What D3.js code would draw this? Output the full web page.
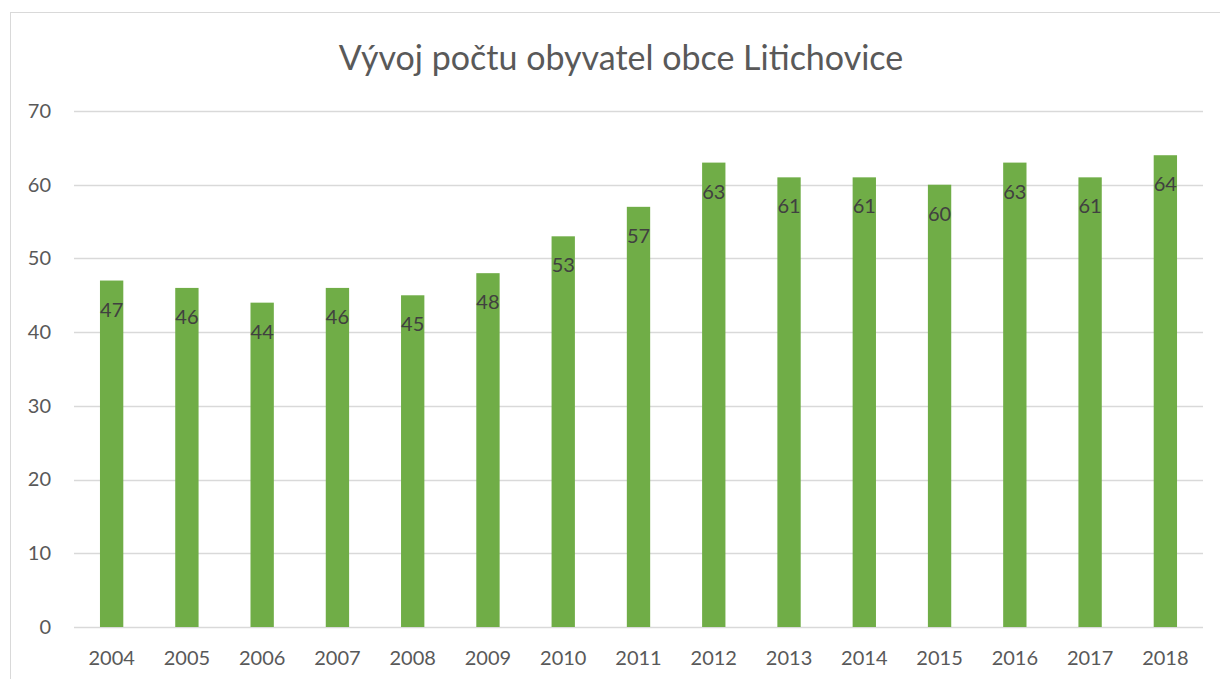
<!DOCTYPE html>
<html>
<head>
<meta charset="utf-8">
<script src="https://cdn.jsdelivr.net/npm/d3@7"></script>
<style>
  body { margin: 0; background: #fff; }
  text { font-family: Lato, "Open Sans", sans-serif; }
</style>
</head>
<body>
<svg></svg>
<script>
const years = ["2004", "2005", "2006", "2007", "2008", "2009", "2010", "2011",
  "2012", "2013", "2014", "2015", "2016", "2017", "2018"];
const population = [47, 46, 44, 46, 45, 48, 53, 57, 63, 61, 61, 60, 63, 61, 64];
const yTicks = [0, 10, 20, 30, 40, 50, 60, 70];
const title = "Vývoj počtu obyvatel obce Litichovice";

const data = years.map((y, i) => ({ year: y, value: population[i] }));

const outerWidth = 1220;
const outerHeight = 679;
const margin = { top: 111, right: 17, bottom: 52, left: 74 };
const width = outerWidth - margin.left - margin.right;
const height = outerHeight - margin.top - margin.bottom;

const svg = d3.select("svg")
  .attr("width", outerWidth)
  .attr("height", outerHeight);

// chart border
svg.append("rect")
  .attr("x", 10.5).attr("y", 12.5)
  .attr("width", 1230).attr("height", 700)
  .attr("fill", "none")
  .attr("stroke", "#d9d9d9");

svg.append("text")
  .attr("x", 621)
  .attr("y", 70)
  .attr("text-anchor", "middle")
  .style("font-size", "34px")
  .style("fill", "#595959")
  .text(title);

const g = svg.append("g")
  .attr("transform", `translate(${margin.left}, ${margin.top})`);

const x = d3.scaleBand()
  .domain(years)
  .range([0, width])
  .paddingInner(0.69)
  .paddingOuter(0.345);

const y = d3.scaleLinear()
  .domain([0, 70])
  .range([height, 0]);

// gridlines
g.selectAll(".grid")
  .data(yTicks)
  .enter()
  .append("line")
    .attr("x1", 0)
    .attr("x2", width)
    .attr("y1", d => Math.round(y(d)) + 0.5)
    .attr("y2", d => Math.round(y(d)) + 0.5)
    .attr("stroke", "#d9d9d9")
    .attr("stroke-width", 1.3);

// y axis labels
const yAxis = g.append("g")
  .call(d3.axisLeft(y).tickValues(yTicks).tickSize(0).tickPadding(23));
yAxis.select(".domain").remove();
yAxis.selectAll("text")
  .style("font-size", "20px")
  .style("fill", "#595959")
  .style("font-family", "Lato, 'Open Sans', sans-serif");

// bars
g.selectAll(".bar")
  .data(data)
  .enter()
  .append("rect")
    .attr("x", d => x(d.year))
    .attr("y", d => y(d.value))
    .attr("width", x.bandwidth())
    .attr("height", d => height - y(d.value))
    .style("fill", "#70ad47");

// value labels
g.selectAll(".label")
  .data(data)
  .enter()
  .append("text")
    .attr("x", d => x(d.year) + x.bandwidth() / 2)
    .attr("y", d => y(d.value) + 36)
    .attr("text-anchor", "middle")
    .style("font-size", "20px")
    .style("fill", "#404040")
    .text(d => d.value);

// x axis
const xAxis = g.append("g")
  .attr("transform", `translate(0, ${height})`)
  .call(d3.axisBottom(x).tickSize(0).tickPadding(24));
xAxis.select(".domain").remove();
xAxis.selectAll("text")
  .style("font-size", "20px")
  .style("fill", "#595959")
  .style("font-family", "Lato, 'Open Sans', sans-serif");
</script>
</body>
</html>
